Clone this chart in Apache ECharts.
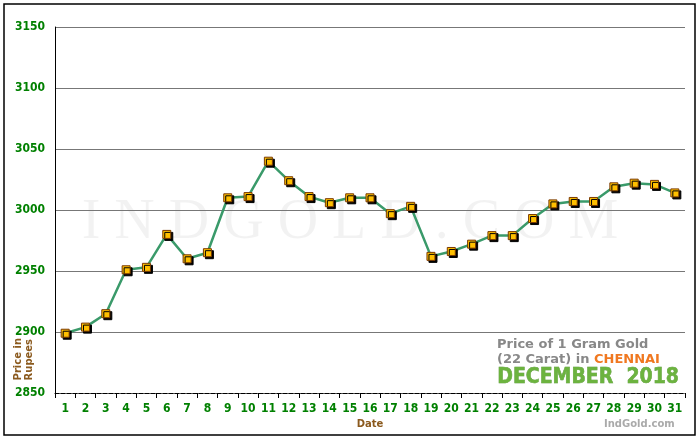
<!DOCTYPE html>
<html>
<head>
<meta charset="utf-8">
<script src="https://cdn.jsdelivr.net/npm/echarts@6/dist/echarts.min.js"></script>
<style>
  html, body { margin: 0; padding: 0; background: #fff; }
  #chart { width: 700px; height: 440px; }
</style>
</head>
<body>
<div id="chart"></div>
<script>
const days = Array.from({ length: 31 }, (_, i) => String(i + 1));
const prices = [2899, 2904, 2915, 2951, 2953, 2980, 2960, 2965, 3010, 3011,
  3040, 3024, 3011, 3006, 3010, 3010, 2997, 3003, 2962, 2966,
  2972, 2979, 2979, 2993, 3005, 3007, 3007, 3019, 3022, 3021, 3014];

const labelFont = { color: '#008000', fontWeight: 'bold', fontSize: 12, fontFamily: '"DejaVu Sans Condensed", "DejaVu Sans"' };

const chart = echarts.init(document.getElementById('chart'));
chart.setOption({
  animation: false,
  grid: { left: 55, right: 15, top: 27, bottom: 47 },
  graphic: [
    { type: 'rect', shape: { x: 4, y: 4, width: 691, height: 431 },
      style: { fill: 'none', stroke: '#000', lineWidth: 1.5 } },
    { type: 'text', left: 13, top: 338, rotation: Math.PI / 2,
      style: { text: 'Price in\nRupees', fill: '#8b5a1e', font: 'bold 10px Verdana, "DejaVu Sans"', align: 'center', lineHeight: 11 } },
    { type: 'text', left: 'center', top: 195,
      style: { text: 'I N D G O L D . C O M', fill: 'rgba(0,0,0,0.05)', font: '56px "Liberation Serif", serif' } },
    { type: 'text', left: 497, top: 338,
      style: { text: 'Price of 1 Gram Gold', fill: '#888', font: 'bold 13px Verdana, "DejaVu Sans"' } },
    { type: 'text', left: 497, top: 353,
      style: { rich: { g: { fill: '#888', font: 'bold 13px Verdana, "DejaVu Sans"' }, o: { fill: '#f07820', font: 'bold 13px Verdana, "DejaVu Sans"' } },
        text: '{g|(22 Carat) in }{o|CHENNAI}' } },
    { type: 'text', left: 497, top: 367,
      style: { text: 'DECEMBER  2018', fill: '#6cb33f', stroke: '#4a8a2a', lineWidth: 0.5, font: 'bold 21px "DejaVu Sans Condensed", "DejaVu Sans"' } },
    { type: 'text', left: 604, top: 419,
      style: { text: 'IndGold.com', fill: '#aaa', font: 'bold 10px Verdana, "DejaVu Sans"' } }
  ],
  xAxis: {
    type: 'category',
    data: days,
    name: 'Date',
    nameLocation: 'middle',
    nameGap: 22,
    nameTextStyle: { color: '#8b5a1e', fontWeight: 'bold', fontSize: 10, fontFamily: 'Verdana, DejaVu Sans' },
    axisLine: { lineStyle: { color: '#000', type: 'dashed' } },
    axisTick: { show: true, length: 5, interval: 0, lineStyle: { color: '#000' } },
    axisLabel: Object.assign({ interval: 0, margin: 10 }, labelFont),
    splitLine: { show: false }
  },
  yAxis: {
    type: 'value',
    min: 2850, max: 3150, interval: 50,
    axisLine: { show: true, lineStyle: { color: '#000' } },
    axisTick: { show: false },
    axisLabel: Object.assign({ margin: 10, formatter: v => String(v) }, labelFont),
    splitLine: { lineStyle: { color: '#777', width: 1 } }
  },
  series: [{
    type: 'line',
    data: prices,
    symbol: 'rect',
    symbolSize: 8,
    lineStyle: { color: '#3a9a6a', width: 2.5 },
    itemStyle: { color: '#ffc000', borderColor: '#7a3a00', borderWidth: 1, shadowColor: '#000', shadowOffsetX: 2, shadowOffsetY: 2 }
  }]
});
</script>
</body>
</html>
